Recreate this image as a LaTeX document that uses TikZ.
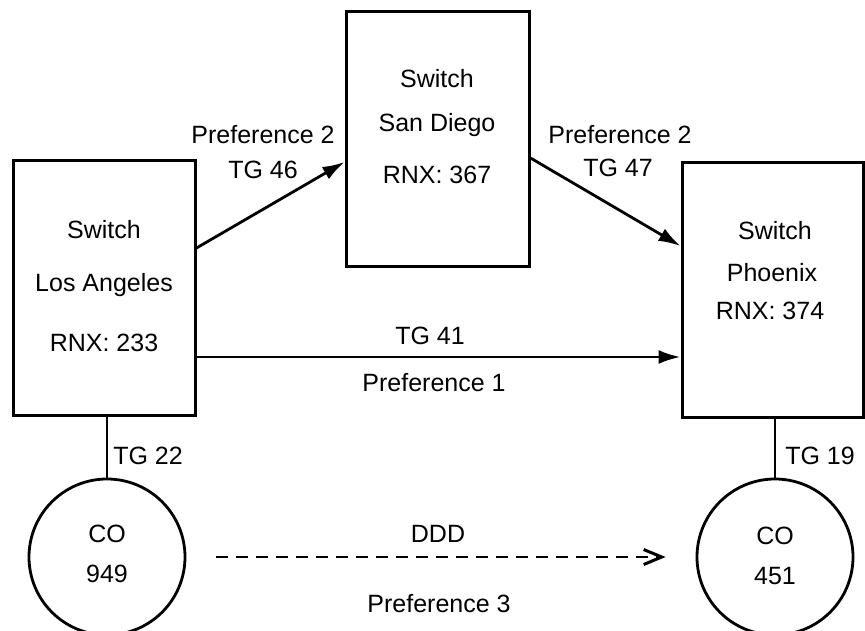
\documentclass[tikz,border=0pt]{standalone}
\usepackage{fontspec}
\setmainfont{Liberation Sans}
\usetikzlibrary{arrows.meta}
\begin{document}
\begin{tikzpicture}[x=1pt,y=-1pt,
  every node/.style={font=\fontsize{25}{30}\selectfont},
  switchbox/.style={draw, line width=3pt, rectangle, inner sep=0pt},
  office/.style={draw, line width=2.8pt, circle, inner sep=0pt, minimum size=156pt},
  txt/.style={anchor=base, inner sep=0pt},
  arr/.style={line width=2.8pt, -{Latex[length=22pt,width=14pt]}},
  trunk/.style={line width=2pt},
  ddd/.style={line width=2.8pt, dash pattern=on 12pt off 8pt,
    -{Straight Barb[length=18pt,width=15pt,line width=3pt]}}]
\useasboundingbox (0,0) rectangle (865,631);

% switches
\node[switchbox, minimum width=182pt, minimum height=254pt] (la) at (104,288) {};
\node[switchbox, minimum width=183pt, minimum height=255pt] (sd) at (437.5,139.5) {};
\node[switchbox, minimum width=181pt, minimum height=254pt] (ph) at (772.5,290) {};

% central offices
\node[office] (co949) at (107,557) {};
\node[office] (co451) at (775,557) {};

% text inside the switches
\node[txt] (laA) at (104,239) {Switch};
\node[txt] (laB) at (104,291) {Los Angeles};
\node[txt] (laC) at (104,351) {RNX: 233};
\node[txt] (sdA) at (437,88) {Switch};
\node[txt] (sdB) at (437,132) {San Diego};
\node[txt] (sdC) at (437,184) {RNX: 367};
\node[txt] (phA) at (775,240) {Switch};
\node[txt] (phB) at (772,281) {Phoenix};
\node[txt] (phC) at (770,319) {RNX: 374};

% text inside the offices
\node[txt] (coA) at (107,542) {CO};
\node[txt] (coB) at (107,582) {949};
\node[txt] (coC) at (775,544) {CO};
\node[txt] (coD) at (775,584) {451};

% trunk groups
\draw[arr] ([yshift=40pt]la.east) -- ([yshift=-22.5pt]sd.west);
\draw[arr] ([yshift=-18.5pt]sd.east) -- ([yshift=44pt]ph.west);
\draw[arr] ([yshift=-69pt]la.east) -- ([yshift=-69pt]la.east -| ph.west);
\draw[trunk] (co949.north |- la.south) -- (co949.north);
\draw[trunk] (co451.north |- ph.south) -- (co451.north);
\draw[ddd] ([xshift=30pt]co949.east) -- ([xshift=-30pt]co451.west);

% connector labels
\node[txt] (l1) at (263,144) {Preference 2};
\node[txt] (l2) at (263,179) {TG 46};
\node[txt] (l3) at (620,144) {Preference 2};
\node[txt] (l4) at (618,177) {TG 47};
\node[txt] (l5) at (430,344) {TG 41};
\node[txt] (l6) at (434,391) {Preference 1};
\node[txt] (l7) at (148,464) {TG 22};
\node[txt] (l8) at (820,464) {TG 19};
\node[txt] (l9) at (438,542) {DDD};
\node[txt] (l10) at (439,612) {Preference 3};
\end{tikzpicture}
\end{document}
